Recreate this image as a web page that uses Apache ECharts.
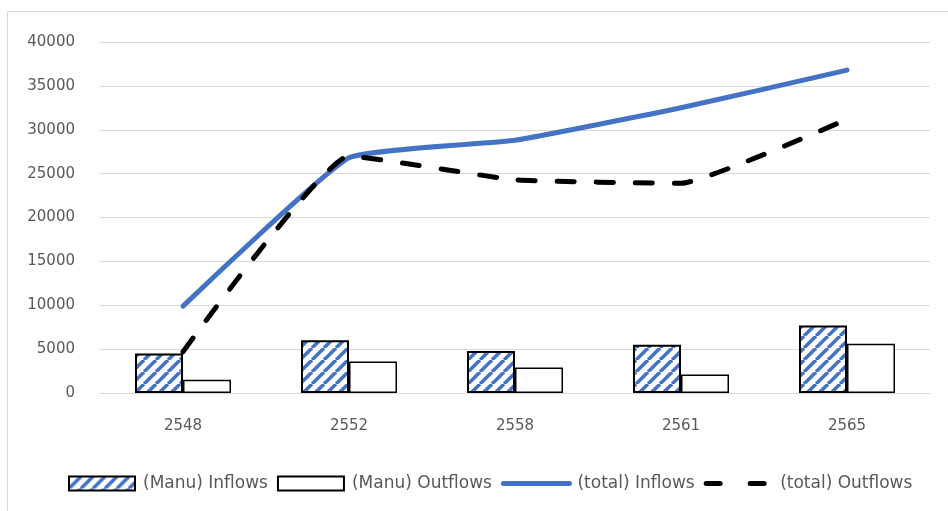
<!DOCTYPE html>
<html>
<head>
<meta charset="utf-8">
<script src="https://cdn.jsdelivr.net/npm/echarts@6/dist/echarts.min.js"></script>
<style>
  html, body { margin: 0; padding: 0; background: #fff; }
  #chart { width: 948px; height: 511px; }
</style>
</head>
<body>
<div id="chart"></div>
<script>
// Years (Buddhist era) on the category axis
const years = ['2548', '2552', '2558', '2561', '2565'];
// Manufacturing flows (bars)
const manuInflows = [4500, 6000, 4800, 5500, 7700];
const manuOutflows = [1500, 3600, 2900, 2100, 5600];
// Total flows (lines)
const totalInflows = [9900, 26800, 28800, 32500, 36800];
const totalOutflows = [4700, 27000, 24300, 23900, 31200];
// Value axis ticks
const yTicks = [0, 5000, 10000, 15000, 20000, 25000, 30000, 35000, 40000];

const BLUE = '#4472C4';
const GREY_TEXT = '#595959';
const FONT = '"DejaVu Sans", "Noto Sans", sans-serif';
const DASH = [17, 22];

// Diagonal blue hatching used for the inflow bars
function hatch() {
  const s = 12;
  const c = document.createElement('canvas');
  c.width = s; c.height = s;
  const ctx = c.getContext('2d');
  ctx.fillStyle = '#ffffff';
  ctx.fillRect(0, 0, s, s);
  ctx.strokeStyle = BLUE;
  ctx.lineWidth = 3.5;
  for (let k = -1; k <= 1; k++) {
    ctx.beginPath();
    ctx.moveTo(k * s, s);
    ctx.lineTo(k * s + s, 0);
    ctx.stroke();
  }
  return c;
}

const chart = echarts.init(document.getElementById('chart'), null, { renderer: 'canvas' });

chart.setOption({
  animation: false,
  backgroundColor: '#ffffff',
  graphic: [{
    type: 'rect',
    shape: { x: 7.5, y: 11.5, width: 1000, height: 600 },
    style: { fill: 'none', stroke: '#d9d9d9', lineWidth: 1 },
    silent: true,
    z: -1
  }],
  grid: { left: 100, right: 18, top: 42, bottom: 118 },
  legend: {
    bottom: 14,
    left: 63,
    itemWidth: 66,
    itemHeight: 14,
    itemGap: 9,
    textStyle: { color: GREY_TEXT, fontSize: 17, fontFamily: FONT, padding: [0, 0, 0, 3] },
    data: [
      { name: '(Manu) Inflows', icon: 'rect' },
      { name: '(Manu) Outflows', icon: 'rect' },
      { name: '(total) Inflows', itemStyle: { opacity: 0 }, lineStyle: { width: 5, color: BLUE, cap: 'round' } },
      { name: '(total) Outflows', itemStyle: { opacity: 0 }, lineStyle: { width: 5, color: '#000000', type: [14, 30], cap: 'round' } }
    ]
  },
  xAxis: {
    type: 'category',
    data: years,
    axisLine: { lineStyle: { color: '#d9d9d9', width: 1 } },
    axisTick: { show: false },
    axisLabel: { color: GREY_TEXT, fontSize: 15, fontFamily: FONT, margin: 26 }
  },
  yAxis: {
    type: 'value',
    min: yTicks[0],
    max: yTicks[yTicks.length - 1],
    interval: yTicks[1] - yTicks[0],
    axisLine: { show: false },
    axisTick: { show: false },
    splitLine: { lineStyle: { color: '#d9d9d9', width: 1 } },
    axisLabel: {
      color: GREY_TEXT, fontSize: 15, fontFamily: FONT, margin: 25,
      formatter: v => String(v)
    }
  },
  series: [
    {
      name: '(Manu) Inflows',
      type: 'bar',
      data: manuInflows,
      barWidth: 48,
      barGap: '0%',
      itemStyle: {
        color: { image: hatch(), repeat: 'repeat' },
        borderColor: '#000000',
        borderWidth: 2
      },
      z: 2
    },
    {
      name: '(Manu) Outflows',
      type: 'bar',
      data: manuOutflows,
      barWidth: 48,
      barGap: '0%',
      itemStyle: { color: '#ffffff', borderColor: '#000000', borderWidth: 1.5 },
      z: 2
    },
    {
      name: '(total) Inflows',
      type: 'line',
      data: totalInflows,
      smooth: 0.12,
      symbol: 'none',
      lineStyle: { color: BLUE, width: 5, cap: 'round', join: 'round' },
      itemStyle: { color: BLUE },
      z: 4
    },
    {
      name: '(total) Outflows',
      type: 'line',
      data: totalOutflows,
      smooth: 0.12,
      symbol: 'none',
      lineStyle: { color: '#000000', width: 5, type: DASH, cap: 'round', join: 'round' },
      itemStyle: { color: '#000000' },
      z: 5
    }
  ]
});
</script>
</body>
</html>
